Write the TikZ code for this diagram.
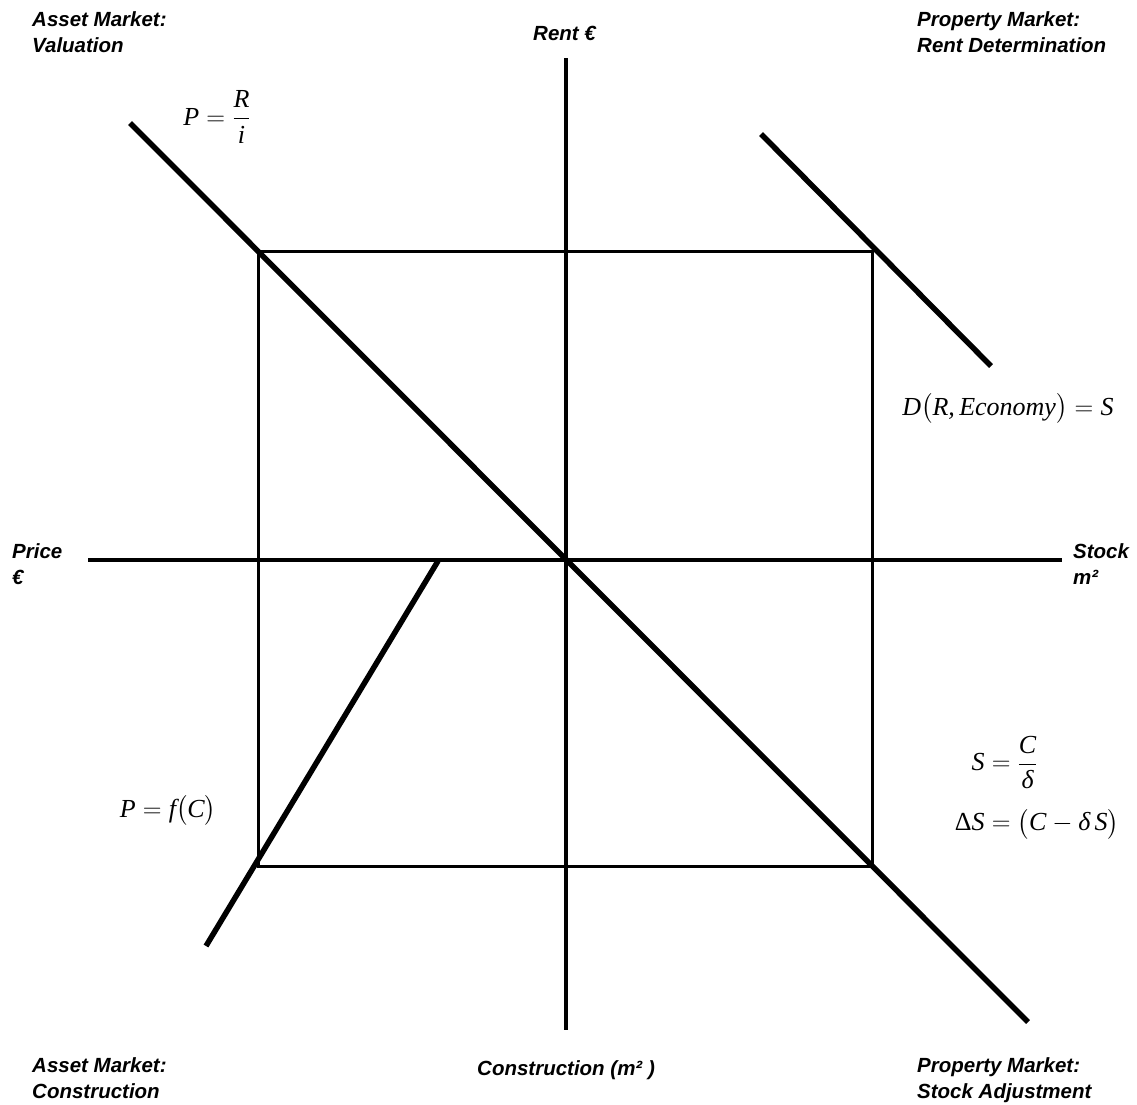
\RequirePackage{fix-cm}
\documentclass[tikz,border=0pt]{standalone}
\usepackage{amsmath}
\usepackage{fontspec}
\setmainfont{Liberation Sans}
\newfontfamily\eqfont{Liberation Serif}
\newcommand\vv[1]{\mbox{\eqfont\itshape #1}}
\newcommand\vu[1]{\mbox{\eqfont #1}}
\begin{document}
\begin{tikzpicture}[x=1pt,y=-1pt,
  axisline/.style={line width=3.2pt},
  framebox/.style={line width=3pt},
  curveline/.style={line width=5.5pt},
  lbl/.style={font=\fontsize{20.5}{26}\selectfont\bfseries\itshape, inner sep=0pt, align=left, anchor=north west},
  eqn/.style={font=\fontsize{26}{30}\selectfont, inner sep=0pt}]
\useasboundingbox (0,0) rectangle (1137,1104);
% coordinates
\coordinate (vt) at (566,58);
\coordinate (vb) at (566,1030);
\coordinate (hl) at (88,560);
\coordinate (hr) at (1062,560);
\coordinate (tl) at (258,251);
\coordinate (tr) at (872,251);
\coordinate (br) at (872,866);
\coordinate (bl) at (258,866);
\coordinate (d1) at (130,123);
\coordinate (d2) at (1028,1022);
\coordinate (u1) at (761,134);
\coordinate (u2) at (991,366);
\coordinate (c1) at (438,561);
\coordinate (c2) at (206,946);
% axes
\draw[axisline] (vt) -- (vb);
\draw[axisline] (hl) -- (hr);
% rectangle
\draw[framebox] (tl) -- (tr) -- (br) -- (bl) -- cycle;
% curves
\draw[curveline] (d1) -- (d2);
\draw[curveline] (u1) -- (u2);
\draw[curveline] (c1) -- (c2);
% labels
\node[lbl] (avl) at (32,11) {Asset Market:\\Valuation};
\node[lbl, anchor=base west] (rent) at (533,40) {Rent €};
\node[lbl] (prd) at (917,11) {Property Market:\\Rent Determination};
\node[lbl] (price) at (12,543) {Price\\€};
\node[lbl] (stock) at (1073,543) {Stock\\m²};
\node[lbl] (acon) at (32,1057) {Asset Market:\\Construction};
\node[lbl, anchor=base west] (cons) at (477,1075) {Construction (m² )};
\node[lbl] (psa) at (917,1057) {Property Market:\\Stock Adjustment};
% equations
\node[eqn] (eqs) at (1037,788) {$\begin{aligned}\vv{S} &= \frac{\vv{C}}{\vv{δ}}\\[16pt]
  \vu{Δ}\vv{S} &= \bigl(\vv{C}-\vv{δ}\,\vv{S}\bigr)\end{aligned}$};
\node[eqn] (eqv) at (217,117) {$\displaystyle \vv{P}=\frac{\vv{R}}{\vv{i}}$};
\node[eqn, anchor=base] (eqd) at (1008,415) {$\vv{D}\bigl(\vv{R,}\,\vv{Economy}\bigr)=\vv{S}$};
\node[eqn, anchor=base] (eqf) at (168,817) {$\vv{P}=\vv{f}\bigl(\vv{C}\bigr)$};
\end{tikzpicture}
\end{document}
